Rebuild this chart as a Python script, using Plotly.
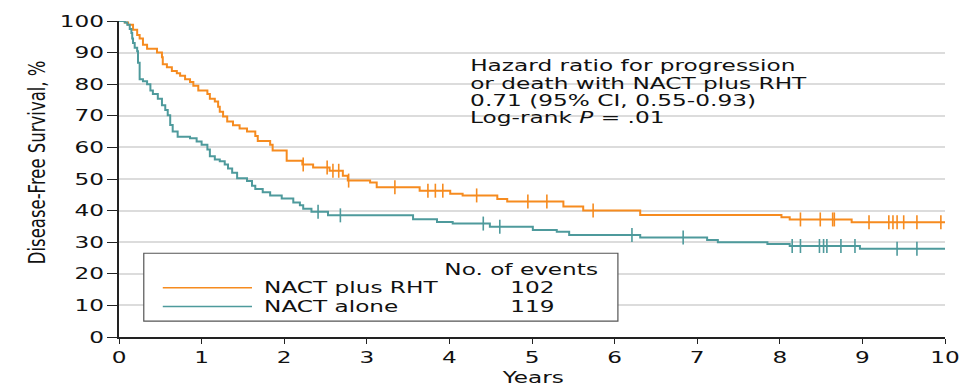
import json
import numpy as np
import plotly.graph_objects as go

# Kaplan-Meier disease-free survival estimates (years, %)
years_rht = [0, 0.07, 0.11, 0.17, 0.22, 0.25, 0.29, 0.34, 0.46, 0.52, 0.53, 0.58, 0.64, 0.70, 0.74,
             0.80, 0.86, 0.90, 0.96, 1.07, 1.10, 1.16, 1.20, 1.22, 1.26, 1.31, 1.38, 1.46, 1.55, 1.65,
             1.68, 1.83, 1.86, 2.03, 2.22, 2.35, 2.55, 2.71, 2.77, 3.04, 3.12, 3.64, 4.01, 4.16, 4.58,
             4.70, 5.38, 5.62, 6.31, 8.02, 8.12, 8.87, 10.0]
dfs_rht = [100, 99.5, 98.8, 97.2, 95.6, 94.5, 92.5, 91.2, 90.0, 88.5, 86.3, 85.4, 84.2, 83.5, 82.7,
           81.6, 80.7, 79.5, 78.0, 76.9, 75.4, 74.5, 72.9, 71.3, 69.8, 68.2, 67.0, 66.0, 65.0, 63.6,
           62.0, 60.8, 59.0, 55.8, 54.6, 53.6, 52.6, 51.0, 49.5, 48.9, 47.4, 46.3, 45.3, 44.8, 43.7,
           42.9, 41.3, 40.0, 38.6, 37.9, 37.2, 36.3, 36.3]
censor_rht = [2.23, 2.52, 2.59, 2.66, 2.78, 3.34, 3.74, 3.83, 3.92, 4.33, 4.95, 5.18, 5.74,
              8.25, 8.49, 8.64, 8.66, 9.08, 9.32, 9.37, 9.42, 9.50, 9.66, 9.95]

years_alone = [0, 0.07, 0.10, 0.13, 0.15, 0.16, 0.17, 0.19, 0.22, 0.23, 0.25, 0.29, 0.34, 0.38, 0.41,
               0.47, 0.52, 0.56, 0.59, 0.62, 0.65, 0.71, 0.86, 0.94, 1.00, 1.07, 1.10, 1.16, 1.22, 1.28,
               1.32, 1.37, 1.43, 1.55, 1.61, 1.65, 1.74, 1.83, 1.97, 2.11, 2.19, 2.23, 2.33, 2.53, 3.56,
               3.85, 4.04, 4.49, 5.01, 5.30, 5.45, 6.31, 7.12, 7.25, 7.85, 8.12, 8.97, 10.0]
dfs_alone = [100, 99.5, 98.8, 97.5, 96.2, 94.5, 93.0, 91.5, 90.4, 86.8, 81.6, 80.9, 80.0, 78.0, 76.9,
             75.4, 73.3, 71.8, 70.2, 67.1, 65.0, 63.4, 62.9, 61.9, 60.8, 59.3, 57.2, 56.2, 55.6, 54.6,
             53.3, 52.0, 50.2, 49.4, 47.9, 46.8, 45.8, 44.8, 43.8, 42.6, 41.7, 40.6, 39.6, 38.5, 37.3,
             36.4, 35.9, 34.9, 33.9, 33.3, 32.3, 31.5, 30.7, 30.0, 29.4, 28.8, 27.9, 27.9]
censor_alone = [2.41, 2.68, 4.41, 4.61, 6.21, 6.83, 8.15, 8.25, 8.48, 8.53, 8.57, 8.74, 8.91,
                9.42, 9.66]

group_names = ["NACT plus RHT", "NACT alone"]
events = [102, 119]
x_ticks = list(range(0, 11))
y_ticks = list(range(0, 101, 10))

hr_lines = ["Hazard ratio for progression",
            "or death with NACT plus RHT",
            "0.71 (95% CI, 0.55-0.93)",
            "Log-rank <i>P</i> = .01"]

ORANGE = "#F68B1F"
TEAL = "#4E9A9C"
INK = "#111111"
FONT = "DejaVu Sans"


def step_value(times, surv, t):
    idx = np.searchsorted(np.asarray(times), t, side="right") - 1
    return [surv[i] for i in idx]


fig = go.Figure()
for times, surv, cens, color, name in [
    (years_rht, dfs_rht, censor_rht, ORANGE, group_names[0]),
    (years_alone, dfs_alone, censor_alone, TEAL, group_names[1]),
]:
    fig.add_trace(go.Scatter(x=times, y=surv, mode="lines", line=dict(color=color, width=2, shape="hv"),
                             name=name, showlegend=False, hoverinfo="skip"))
    fig.add_trace(go.Scatter(x=cens, y=step_value(times, surv, cens), mode="markers",
                             marker=dict(symbol="line-ns", size=10, line=dict(color=color, width=1.6)),
                             showlegend=False, hoverinfo="skip", cliponaxis=False))

annotations = []
stretch = []  # per-annotation horizontal widening of the lettering

# hazard ratio block
for i, line in enumerate(hr_lines):
    annotations.append(dict(x=4.225, y=85.7 - i * 5.48, xref="x", yref="y", text=line, showarrow=False,
                            xanchor="left", yanchor="middle", font=dict(family=FONT, size=15, color=INK)))
    stretch.append(1.55)

# legend panel
shapes = [dict(type="rect", xref="x", yref="y", x0=0.30, x1=6.04, y0=5.0, y1=26.5,
               line=dict(color="#555", width=1.2), fillcolor="white", layer="above")]
legend_y = [15.58, 9.66]
for color, ly in zip([ORANGE, TEAL], legend_y):
    shapes.append(dict(type="line", xref="x", yref="y", x0=0.53, x1=1.61, y0=ly, y1=ly,
                       line=dict(color=color, width=1.6), layer="above"))
annotations.append(dict(x=5.82, y=21.5, xref="x", yref="y", text="No. of events", showarrow=False,
                        xanchor="right", yanchor="middle", font=dict(family=FONT, size=16, color=INK)))
stretch.append(1.45)
for name, ev, ly in zip(group_names, events, legend_y):
    annotations.append(dict(x=1.73, y=ly, xref="x", yref="y", text=name, showarrow=False,
                            xanchor="left", yanchor="middle", font=dict(family=FONT, size=16, color=INK)))
    stretch.append(1.45)
    annotations.append(dict(x=5.0, y=ly, xref="x", yref="y", text=str(ev), showarrow=False,
                            xanchor="center", yanchor="middle", font=dict(family=FONT, size=16, color=INK)))
    stretch.append(1.45)

# axis titles
annotations.append(dict(x=0, y=0.553, xref="paper", yref="paper", text="Disease-Free Survival, %",
                        textangle=-90, showarrow=False, xanchor="center", yanchor="middle", xshift=-82,
                        font=dict(family=FONT, size=16.5, color=INK)))
stretch.append(1.4)
annotations.append(dict(x=5, y=0, xref="x", yref="paper", text="Years", showarrow=False,
                        xanchor="center", yanchor="middle", yshift=-40,
                        font=dict(family=FONT, size=16, color=INK)))
stretch.append(1.45)

fig.update_layout(
    width=979, height=388,
    margin=dict(l=119, r=34, t=16, b=51),
    plot_bgcolor="white", paper_bgcolor="white",
    shapes=shapes, annotations=annotations,
    font=dict(family=FONT, size=16, color=INK),
)
fig.update_xaxes(range=[0, 10], tickvals=x_ticks, showgrid=False, zeroline=False,
                 showline=True, linecolor="#222", linewidth=1.5, ticks="outside", ticklen=5,
                 tickcolor="#222", tickwidth=1.2, tickfont=dict(family=FONT, size=16, color=INK))
fig.update_yaxes(range=[0, 100], tickvals=y_ticks, showgrid=True, gridcolor="#DCDCDC", gridwidth=1.5,
                 zeroline=False, showline=True, linecolor="#222", linewidth=1.5, ticks="outside",
                 ticklen=10, tickcolor="#222", tickwidth=1.2,
                 tickfont=dict(family=FONT, size=16, color=INK))

# Widen the lettering (extended type) while keeping each label's anchor edge in place.
post_script = """
var gd = document.getElementById('{plot_id}');
var factors = %s;
var TICK = 1.45;
function widen(el, cx, cy, sx, sy) {
  var old = el.getAttribute('transform') || '';
  el.setAttribute('transform', old + ' translate(' + cx + ',' + cy + ') scale(' + sx + ',' + sy +
                  ') translate(' + (-cx) + ',' + (-cy) + ')');
}
gd.querySelectorAll('g.annotation').forEach(function (g) {
  var i = +g.getAttribute('data-index');
  var ann = gd._fullLayout.annotations[i];
  var t = g.querySelector('text.annotation-text');
  if (!t || !ann) return;
  var bb = t.getBBox();
  var s = factors[i] || 1;
  if (ann.textangle === -90) {
    widen(t, bb.x + bb.width / 2, bb.y + bb.height / 2, 1, s);
  } else {
    var cx = ann.xanchor === 'left' ? bb.x : (ann.xanchor === 'right' ? bb.x + bb.width : bb.x + bb.width / 2);
    widen(t, cx, bb.y + bb.height / 2, s, 1);
  }
});
gd.querySelectorAll('g.xtick text, g.ytick text').forEach(function (t) {
  var bb = t.getBBox();
  var a = t.getAttribute('text-anchor');
  var cx = a === 'end' ? bb.x + bb.width : (a === 'start' ? bb.x : bb.x + bb.width / 2);
  widen(t, cx, bb.y + bb.height / 2, TICK, 1);
});
""" % json.dumps(stretch)

fig.write_html("out.html", post_script=post_script)
